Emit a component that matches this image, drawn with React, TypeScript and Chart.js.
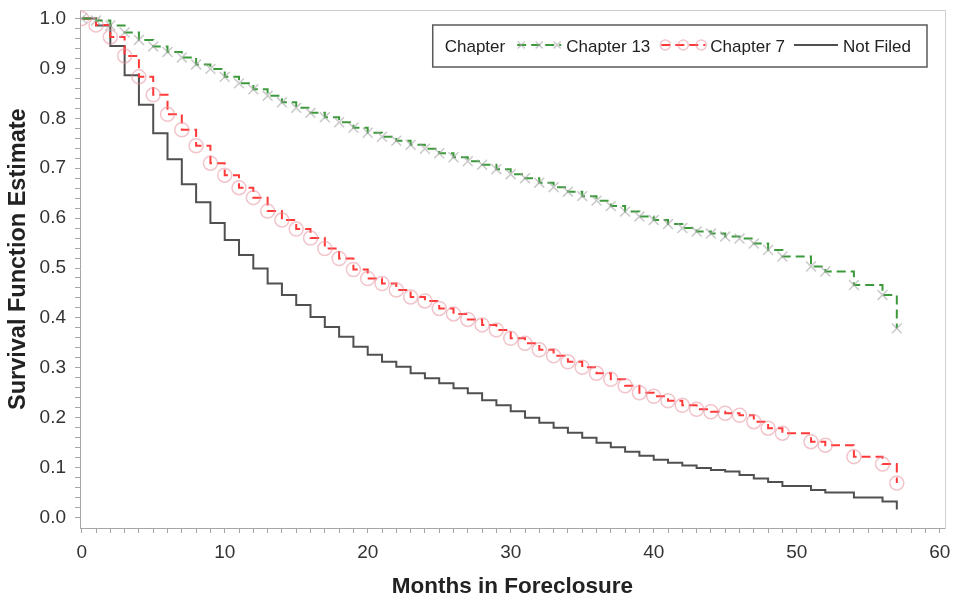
import React, { useEffect, useRef } from 'react';
import { Chart, registerables } from 'chart.js';

Chart.register(...registerables);

// ---- Data ----
const months = [
  0, 1, 2, 3, 4, 5, 6, 7, 8, 9, 10, 11, 12, 13, 14, 15, 16, 17, 18, 19, 20,
  21, 22, 23, 24, 25, 26, 27, 28, 29, 30, 31, 32, 33, 34, 35, 36, 37, 38, 39,
  40, 41, 42, 43, 44, 45, 46, 47, 48, 49, 51, 52, 54, 56, 57,
];

const chapter13 = [
  1.0, 0.996, 0.986, 0.972, 0.957, 0.944, 0.933, 0.922, 0.908, 0.899, 0.883,
  0.870, 0.858, 0.845, 0.832, 0.821, 0.811, 0.802, 0.792, 0.781, 0.771,
  0.763, 0.755, 0.747, 0.739, 0.730, 0.722, 0.714, 0.707, 0.698, 0.688,
  0.680, 0.671, 0.662, 0.653, 0.644, 0.635, 0.624, 0.613, 0.603, 0.596,
  0.588, 0.580, 0.573, 0.569, 0.563, 0.559, 0.549, 0.536, 0.523, 0.503,
  0.493, 0.466, 0.446, 0.379,
];

const chapter7 = [
  1.0, 0.987, 0.963, 0.925, 0.883, 0.847, 0.808, 0.777, 0.745, 0.710, 0.686,
  0.661, 0.641, 0.614, 0.596, 0.578, 0.560, 0.539, 0.519, 0.497, 0.479,
  0.469, 0.456, 0.442, 0.434, 0.419, 0.408, 0.397, 0.386, 0.376, 0.359,
  0.349, 0.336, 0.324, 0.312, 0.301, 0.289, 0.277, 0.264, 0.250, 0.243,
  0.234, 0.225, 0.217, 0.212, 0.209, 0.205, 0.192, 0.179, 0.169, 0.152,
  0.145, 0.122, 0.107, 0.069,
];

const notFiled = [
  1.0, 0.986, 0.945, 0.886, 0.827, 0.770, 0.718, 0.668, 0.632, 0.590, 0.556,
  0.526, 0.499, 0.469, 0.446, 0.426, 0.402, 0.382, 0.362, 0.342, 0.326,
  0.312, 0.302, 0.289, 0.279, 0.269, 0.259, 0.249, 0.235, 0.225, 0.213,
  0.200, 0.190, 0.180, 0.170, 0.160, 0.150, 0.141, 0.132, 0.124, 0.116,
  0.110, 0.104, 0.099, 0.095, 0.092, 0.085, 0.078, 0.071, 0.063, 0.055,
  0.050, 0.040, 0.032, 0.016,
];

const seriesLabels = ['Chapter 13', 'Chapter 7', 'Not Filed'];
const legendTitle = 'Chapter';
const xTitle = 'Months in Foreclosure';
const yTitle = 'Survival Function Estimate';
const yMajorTicks = [0, 0.1, 0.2, 0.3, 0.4, 0.5, 0.6, 0.7, 0.8, 0.9, 1.0];
const xMajorTicks = [0, 10, 20, 30, 40, 50, 60];
const yMinorStep = 0.02;
const xMinorStep = 1;

const FONT = '"Liberation Sans", Arial, sans-serif';
const AXIS_GRAY = '#a6a6a6';

const toPoints = (vals: number[]) => vals.map((v, i) => ({ x: months[i], y: v }));

function drawMarker(ctx: CanvasRenderingContext2D, style: string, x: number, y: number, r: number) {
  ctx.beginPath();
  if (style === 'crossRot') {
    const d = r * Math.SQRT1_2;
    ctx.moveTo(x - d, y - d);
    ctx.lineTo(x + d, y + d);
    ctx.moveTo(x + d, y - d);
    ctx.lineTo(x - d, y + d);
  } else {
    ctx.arc(x, y, r, 0, Math.PI * 2);
  }
  ctx.stroke();
}

const boxLegend = {
  id: 'boxLegend',
  afterDraw(chart: any) {
    const { ctx, chartArea } = chart;
    const ds = chart.data.datasets;
    ctx.save();
    ctx.font = `17px ${FONT}`;
    const padL = 12;
    const padR = 16;
    const symW = 44;
    const symGap = 5;
    const afterTitle = 12;
    const itemGaps = [11, 9];
    const titleW = ctx.measureText(legendTitle).width;
    const textWs = ds.map((d: any) => ctx.measureText(d.label).width);
    let total = padL + titleW + afterTitle;
    ds.forEach((_d: any, i: number) => {
      total += symW + symGap + textWs[i] + (i < ds.length - 1 ? itemGaps[i] : padR);
    });
    const h = 42;
    const right = chartArea.right - 18;
    const top = chartArea.top + 15;
    const left = right - total;
    ctx.fillStyle = '#ffffff';
    ctx.fillRect(left, top, total, h);
    ctx.strokeStyle = '#595959';
    ctx.lineWidth = 1.5;
    ctx.strokeRect(left, top, total, h);
    const cy = top + h / 2;
    ctx.textBaseline = 'middle';
    ctx.textAlign = 'left';
    ctx.fillStyle = '#222';
    let x = left + padL;
    ctx.fillText(legendTitle, x, cy + 1);
    x += titleW + afterTitle;
    ds.forEach((d: any, i: number) => {
      const ly = cy - 1;
      ctx.save();
      ctx.strokeStyle = d.borderColor;
      ctx.lineWidth = d.borderWidth;
      ctx.setLineDash(d.borderDash || []);
      ctx.beginPath();
      ctx.moveTo(x, ly);
      ctx.lineTo(x + symW, ly);
      ctx.stroke();
      ctx.setLineDash([]);
      if (d.pointRadius > 0) {
        ctx.strokeStyle = d.pointBorderColor;
        ctx.lineWidth = d.pointBorderWidth;
        [4, 22, 40].forEach((o) => drawMarker(ctx, d.pointStyle, x + o, ly, 5));
      }
      ctx.restore();
      x += symW + symGap;
      ctx.fillStyle = '#222';
      ctx.fillText(d.label, x, cy + 1);
      x += textWs[i] + (i < ds.length - 1 ? itemGaps[i] : 0);
    });
    ctx.restore();
  },
};

const isMultiple = (v: number, step: number) => Math.abs(v / step - Math.round(v / step)) < 1e-6;

const zeroPadding = (axis: any) => {
  axis.paddingTop = 0;
  axis.paddingBottom = 0;
  axis.paddingLeft = 0;
  axis.paddingRight = 0;
};

export default function App() {
  const ref = useRef<HTMLCanvasElement | null>(null);

  useEffect(() => {
    if (!ref.current) return;
    const chart = new Chart(ref.current, {
      type: 'line',
      data: {
        datasets: [
          {
            label: seriesLabels[0],
            data: toPoints(chapter13),
            stepped: true,
            borderColor: '#3c9a3c',
            borderWidth: 2,
            borderDash: [9, 5],
            pointStyle: 'crossRot',
            pointRadius: 7,
            pointBorderWidth: 1.5,
            pointBorderColor: 'rgba(165,165,165,0.6)',
            pointBackgroundColor: 'rgba(0,0,0,0)',
            fill: false,
          },
          {
            label: seriesLabels[1],
            data: toPoints(chapter7),
            stepped: true,
            borderColor: '#ff3838',
            borderWidth: 2,
            borderDash: [9, 5],
            pointStyle: 'circle',
            pointRadius: 7,
            pointBorderWidth: 1.5,
            pointBorderColor: 'rgba(228,140,152,0.5)',
            pointBackgroundColor: 'rgba(0,0,0,0)',
            fill: false,
          },
          {
            label: seriesLabels[2],
            data: toPoints(notFiled),
            stepped: true,
            borderColor: '#505050',
            borderWidth: 2,
            pointRadius: 0,
            fill: false,
          },
        ],
      },
      options: {
        responsive: false,
        animation: false,
        devicePixelRatio: 1,
        layout: { padding: 0 },
        plugins: {
          legend: { display: false },
          tooltip: { enabled: false },
        },
        scales: {
          x: {
            type: 'linear',
            position: 'bottom',
            min: -0.12,
            max: 60.37,
            afterBuildTicks: (axis: any) => {
              const t = [];
              for (let v = xMajorTicks[0]; v <= xMajorTicks[xMajorTicks.length - 1] + 1e-9; v += xMinorStep) t.push({ value: v });
              axis.ticks = t;
            },
            afterFit: (axis: any) => {
              axis.height = 73;
              zeroPadding(axis);
            },
            grid: { drawOnChartArea: false, tickLength: 5, tickColor: AXIS_GRAY, tickWidth: 1 },
            border: { display: true, color: AXIS_GRAY, width: 1 },
            ticks: {
              autoSkip: false,
              maxRotation: 0,
              padding: 8,
              color: '#333',
              font: { family: FONT, size: 19 },
              callback: (value: any) => (xMajorTicks.some((m) => Math.abs(m - value) < 1e-6) ? String(Math.round(value)) : ''),
            },
            title: {
              display: true,
              text: xTitle,
              color: '#222',
              font: { family: FONT, size: 22.5, weight: 'bold' },
              padding: { top: 0, bottom: 1 },
            },
          },
          y: {
            type: 'linear',
            position: 'left',
            min: -0.021,
            max: 1.017,
            afterBuildTicks: (axis: any) => {
              const t = [];
              const n = Math.round((yMajorTicks[yMajorTicks.length - 1] - yMajorTicks[0]) / yMinorStep);
              for (let i = 0; i <= n; i++) t.push({ value: Math.round((yMajorTicks[0] + i * yMinorStep) * 1000) / 1000 });
              axis.ticks = t;
            },
            afterFit: (axis: any) => {
              axis.width = 80;
              zeroPadding(axis);
            },
            grid: { drawOnChartArea: false, tickLength: 5, tickColor: AXIS_GRAY, tickWidth: 1 },
            border: { display: true, color: AXIS_GRAY, width: 1 },
            ticks: {
              autoSkip: false,
              padding: 9,
              color: '#333',
              font: { family: FONT, size: 19 },
              callback: (value: any) => (isMultiple(value, 0.1) ? Number(value).toFixed(1) : ''),
            },
            title: {
              display: true,
              text: '   ' + yTitle,
              color: '#222',
              font: { family: FONT, size: 23.5, weight: 'bold' },
              padding: { top: 4, bottom: 0 },
            },
          },
          x2: {
            type: 'linear',
            position: 'top',
            min: 0,
            max: 1,
            afterFit: (axis: any) => {
              axis.height = 10;
              zeroPadding(axis);
            },
            grid: { drawOnChartArea: false, drawTicks: false },
            border: { display: true, color: '#cfcfcf', width: 1 },
            ticks: { display: false },
          },
          y2: {
            type: 'linear',
            position: 'right',
            min: 0,
            max: 1,
            afterFit: (axis: any) => {
              axis.width = 10;
              zeroPadding(axis);
            },
            grid: { drawOnChartArea: false, drawTicks: false },
            border: { display: true, color: '#cfcfcf', width: 1 },
            ticks: { display: false },
          },
        },
      },
      plugins: [boxLegend],
    } as any);
    return () => chart.destroy();
  }, []);

  return (
    <div style={{ position: 'absolute', left: 0, top: 0, width: 955, height: 601, background: '#fff' }}>
      <canvas ref={ref} width={955} height={601} />
    </div>
  );
}
